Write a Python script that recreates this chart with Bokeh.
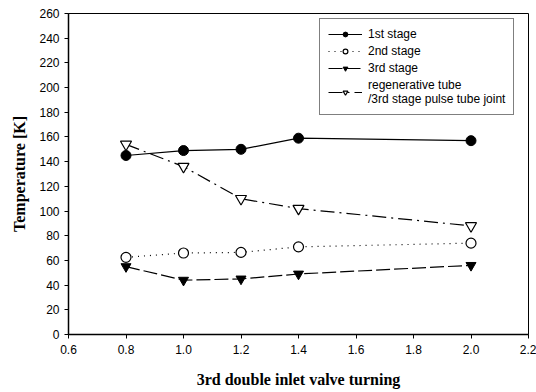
from bokeh.plotting import figure
from bokeh.models import Range1d, FixedTicker, Legend, LegendItem, CustomJSTickFormatter
from bokeh.embed import file_html
from bokeh.resources import INLINE

x_vals = [0.8, 1.0, 1.2, 1.4, 2.0]
stage1 = [145, 149, 150, 159, 157]
stage2 = [62.5, 66, 66.5, 71, 74]
stage3 = [55, 44, 45, 49, 56]
regen = [154, 136, 110, 102, 88]
x_ticks = [0.6, 0.8, 1.0, 1.2, 1.4, 1.6, 1.8, 2.0, 2.2]
y_ticks = list(range(0, 261, 20))

p = figure(width=536, height=392, output_backend="svg", toolbar_location=None,
           x_range=Range1d(0.6, 2.2), y_range=Range1d(0, 260),
           min_border_left=68, min_border_right=8, min_border_top=13, min_border_bottom=58)
p.outline_line_color = "black"
p.outline_line_width = 1
p.xgrid.visible = False
p.ygrid.visible = False
p.background_fill_color = "white"

for ax in (p.xaxis[0], p.yaxis[0]):
    ax.axis_line_color = "black"
    ax.axis_line_width = 1.5
    ax.major_tick_line_color = "black"
    ax.minor_tick_line_color = None
    ax.major_tick_in = 0
    ax.major_tick_out = 4
    ax.major_label_text_font = "Liberation Sans"
    ax.major_label_text_font_size = "12px"
    ax.major_label_text_color = "black"
    ax.axis_label_text_font = "Liberation Serif"
    ax.axis_label_text_font_style = "bold"
    ax.axis_label_text_font_size = "16px"
    ax.axis_label_text_color = "black"

p.xaxis.ticker = FixedTicker(ticks=x_ticks)
p.yaxis.ticker = FixedTicker(ticks=y_ticks)
p.xaxis.formatter = CustomJSTickFormatter(code="return tick.toFixed(1);")
p.xaxis.axis_label = "3rd double inlet valve turning"
p.yaxis.axis_label = "Temperature [K]"
p.xaxis.major_label_standoff = 6
p.xaxis.axis_label_standoff = 14
p.yaxis.axis_label_standoff = 8

l1 = p.line(x_vals, stage1, line_color="black", line_width=1.2)
m1 = p.scatter(x_vals, stage1, marker="circle", size=10, fill_color="black", line_color="black")
l2 = p.line(x_vals, stage2, line_color="black", line_width=1.2, line_dash="1 5")
m2 = p.scatter(x_vals, stage2, marker="circle", size=10, fill_color="white", line_color="black", line_width=1.2)
l3 = p.line(x_vals, stage3, line_color="black", line_width=1.2, line_dash="14 4")
m3 = p.scatter(x_vals, stage3, marker="inverted_triangle", size=10, fill_color="black", line_color="black")
l4 = p.line(x_vals, regen, line_color="black", line_width=1.2, line_dash="14 5 2 5")
m4 = p.scatter(x_vals, regen, marker="inverted_triangle", size=11, fill_color="white", line_color="black", line_width=1.2)

legend = Legend(items=[
    LegendItem(label="1st stage", renderers=[l1, m1]),
    LegendItem(label="2nd stage", renderers=[l2, m2]),
    LegendItem(label="3rd stage", renderers=[l3, m3]),
    LegendItem(label="regenerative tube\n/3rd stage pulse tube joint", renderers=[l4, m4]),
], location=(251, 219))
legend.border_line_color = "black"
legend.border_line_width = 1
legend.label_text_font = "Liberation Sans"
legend.label_text_font_size = "12px"
legend.label_text_color = "black"
legend.label_height = 12
legend.glyph_height = 12
legend.glyph_width = 34
legend.spacing = 3
legend.padding = 8
legend.margin = 0
legend.label_standoff = 6
p.add_layout(legend, "center")

open("out.html", "w").write(file_html(p, INLINE))
